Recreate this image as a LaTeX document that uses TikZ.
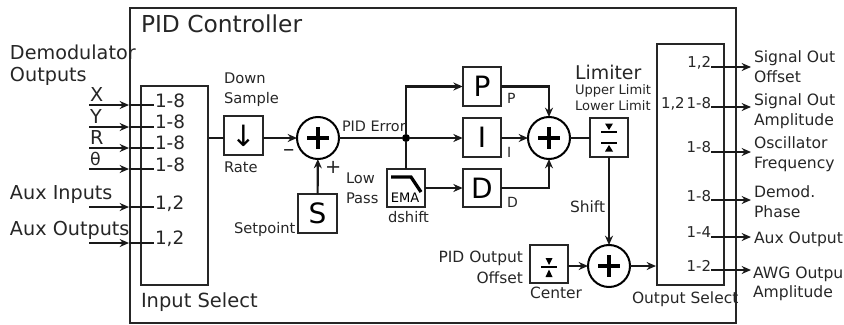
\documentclass[tikz,border=0pt]{standalone}
\usepackage{fontspec}
\setmainfont{DejaVu Sans}
\usetikzlibrary{arrows.meta,calc}
\newcommand{\fsz}[1]{\fontsize{#1}{#1}\selectfont}
\tikzset{
  x=0.75pt,y=-0.75pt,
  wire/.style={line width=1.6pt,draw=black!90},
  arr/.style={wire,-{Stealth[length=7pt,width=6pt]}},
  frame/.style={draw=black!85,line width=1.6pt,fill=none},
  box/.style={draw=black!85,line width=1.5pt,minimum size=29pt,inner sep=0pt,outer sep=0pt,font=\fsz{21}},
  sumnode/.style={draw=black,line width=1.5pt,circle,minimum size=31.5pt,inner sep=0pt,outer sep=0pt,
    path picture={\draw[line width=3pt] ($(path picture bounding box.center)+(-11,0)$) -- ($(path picture bounding box.center)+(11,0)$);
                  \draw[line width=3pt] ($(path picture bounding box.center)+(0,-11)$) -- ($(path picture bounding box.center)+(0,11)$);}},
  txt/.style={inner sep=0pt,outer sep=0pt,anchor=base west,text=black!85},
  rtxt/.style={inner sep=0pt,outer sep=0pt,anchor=base east,text=black!85},
  biglab/.style={txt,font=\fsz{14.4}},
  numlab/.style={txt,font=\fsz{13.8}},
  smlab/.style={txt,font=\fsz{11}},
  midlab/.style={txt,font=\fsz{11.6}},
  rmidlab/.style={rtxt,font=\fsz{11.6}},
  rsmlab/.style={rtxt,font=\fsz{11.2}},
  outlab/.style={txt,font=\fsz{11.7}},
  jdot/.style={circle,fill=black,inner sep=0pt,minimum size=6pt},
}
\begin{document}
\begin{tikzpicture}
\useasboundingbox (0,0) rectangle (844,325);
% frames
\node[frame,minimum width=454.5pt,minimum height=236.25pt,inner sep=0pt] (outer) at (433,165.5) {};
\node[frame,minimum width=50.25pt,minimum height=149.25pt,inner sep=0pt] (insel) at (174.5,185.5) {};
\node[frame,minimum width=50.25pt,minimum height=180.75pt,inner sep=0pt] (outsel) at (690.5,164.5) {};
% titles
\node[txt,font=\fsz{17.5}] (title) at (141,32) {PID Controller};
\node[biglab] (demod) at (10,59) {Demodulator};
\node[biglab] (demod2) at (10,81) {Outputs};
\node[biglab] (lx) at (90,101) {X};
\node[biglab] (ly) at (90,123) {Y};
\node[biglab] (lr) at (90,144) {R};
\node[txt,font=\fsz{13}] (th) at (90,165) {θ};
\node[biglab] (auxi) at (10,199) {Aux Inputs};
\node[biglab] (auxo) at (10,235) {Aux Outputs};
\node[txt,font=\fsz{14.6}] (inselt) at (141,307) {Input Select};
% input numbers
\node[numlab] (n1) at (155,107) {1-8};
\node[numlab] (n2) at (155,128) {1-8};
\node[numlab] (n3) at (155,149) {1-8};
\node[numlab] (n4) at (155,171) {1-8};
\node[numlab] (n5) at (155,209) {1,2};
\node[numlab] (n6) at (155,244) {1,2};
% input wires
\foreach \i/\yy in {1/105,2/127,3/148,4/169,5/207,6/243}{
  \coordinate (is\i) at (89,\yy);
  \coordinate (it\i) at (129,\yy);
  \coordinate (ie\i) at (154,\yy);
  \draw[arr] (is\i) -- (it\i);
  \draw[wire] (it\i) -- (ie\i);
}
% blocks
\node[box,font=\fsz{22}] (down) at (243.5,135.5) {↓};
\node[sumnode] (s1) at (318,138) {};
\node[box] (S) at (317.5,213.5) {S};
\node[jdot] (J) at (406,138) {};
\node[box] (P) at (482,86.5) {P};
\node[box] (I) at (482,137.5) {I};
\node[box] (D) at (482,188) {D};
\node[box] (ema) at (406,188) {};
\node[sumnode] (s2) at (549,138) {};
\node[box] (lim) at (609,137.5) {};
\node[sumnode] (s3) at (609,266) {};
\node[box] (cen) at (549,264) {};
% glyphs in boxes
\begin{scope}[shift={(ema.center)}]
  \draw[line width=2.4pt] (-15,-11) -- (5,-11) -- (15,4);
  \node[inner sep=0pt,font=\fsz{9.8}] (ematxt) at (-1,10) {EMA};
\end{scope}
\begin{scope}[shift={(lim.center)}]
  \draw[line width=1.4pt] (-8,-5.5) -- (8,-5.5) (-8,5.5) -- (8,5.5);
  \fill (-4,-14) -- (4,-14) -- (0,-7.5) -- cycle;
  \fill (-4,14) -- (4,14) -- (0,7.5) -- cycle;
\end{scope}
\begin{scope}[shift={(cen.center)}]
  \draw[line width=1.4pt] (-8,3) -- (8,3);
  \fill (-3.5,-6) -- (3.5,-6) -- (0,1) -- cycle;
  \fill (-3.5,13) -- (3.5,13) -- (0,5.5) -- cycle;
\end{scope}
% connectors
\draw[wire] (insel.east |- s1) -- (down.west |- s1);
\draw[arr] (down.east |- s1) -- (s1);
\draw[arr] (S) -- (s1);
\draw[wire] (s1) -- (J);
\draw[arr] (J) -- (I.west |- J);
\draw[arr] (J) |- (P);
\draw[wire] (ema.north -| J) -- (J);
\draw[arr] (ema) -- (D);
\draw[arr] (I.east |- s2) -- (s2);
\draw[arr] (P) -| (s2);
\draw[arr] (D) -| (s2);
\draw[wire] (s2) -- (lim.west |- s2);
\draw[arr] (lim) -- (s3);
\draw[arr] (cen.east |- s3) -- (s3);
\coordinate (oin) at (656,266);
\draw[arr] (s3) -- (oin);
% output numbers
\node[rsmlab] (o1) at (711,67) {1,2};
\node[rsmlab] (o2) at (711,108) {1-8};
\node[txt,font=\fsz{11.2}] (o2b) at (661,108) {1,2};
\node[rsmlab] (o3) at (711,152) {1-8};
\node[rsmlab] (o4) at (711,201) {1-8};
\node[rsmlab] (o5) at (711,237) {1-4};
\node[rsmlab] (o6) at (711,271) {1-2};
\foreach \i/\yy in {1/67,2/107,3/152,4/200,5/237,6/270}{
  \coordinate (os\i) at (711,\yy);
  \coordinate (ot\i) at (751,\yy);
  \draw[arr] (os\i) -- (ot\i);
}
% labels
\node[smlab] (dn) at (224,83) {Down};
\node[smlab] (dn2) at (224,103) {Sample};
\node[smlab] (rate) at (224,172) {Rate};
\node[smlab] (setp) at (234,233) {Setpoint};
\node[txt,font=\fsz{10.8}] (pe) at (342,131) {PID Error};
\node[smlab] (lp) at (346,183) {Low};
\node[smlab] (lp2) at (346,203) {Pass};
\node[smlab] (ds) at (388,222) {dshift};
\node[txt,font=\fsz{10.5}] (pl) at (507,103) {P};
\node[txt,font=\fsz{10.5}] (il) at (507,157) {I};
\node[txt,font=\fsz{10.5}] (dl) at (507,207) {D};
\node[txt,font=\fsz{14.2}] (limt) at (575,79) {Limiter};
\node[txt,font=\fsz{9.8}] (ul) at (575,94) {Upper Limit};
\node[txt,font=\fsz{9.8}] (ll) at (575,110) {Lower Limit};
\node[midlab] (shift) at (570,212) {Shift};
\node[rmidlab] (po) at (523,262) {PID Output};
\node[rmidlab] (po2) at (523,283) {Offset};
\node[midlab] (center) at (530,298) {Center};
\node[midlab] (osel) at (632,303) {Output Select};
\node[txt,font=\fsz{17}] (minus) at (283,156) {–};
\node[txt,font=\fsz{14.5}] (plus) at (325,173) {+};
\node[outlab] (l1) at (754,62) {Signal Out};
\node[outlab] (l1b) at (754,82) {Offset};
\node[outlab] (l2) at (754,105) {Signal Out};
\node[outlab] (l2b) at (754,125) {Amplitude};
\node[outlab] (l3) at (754,148) {Oscillator};
\node[outlab] (l3b) at (754,168) {Frequency};
\node[outlab] (l4) at (754,197) {Demod.};
\node[outlab] (l4b) at (754,217) {Phase};
\node[outlab] (l5) at (754,243) {Aux Output};
\node[outlab] (l6) at (753,278) {AWG Outpu};
\node[outlab] (l6b) at (753,297) {Amplitude};
\end{tikzpicture}
\end{document}
